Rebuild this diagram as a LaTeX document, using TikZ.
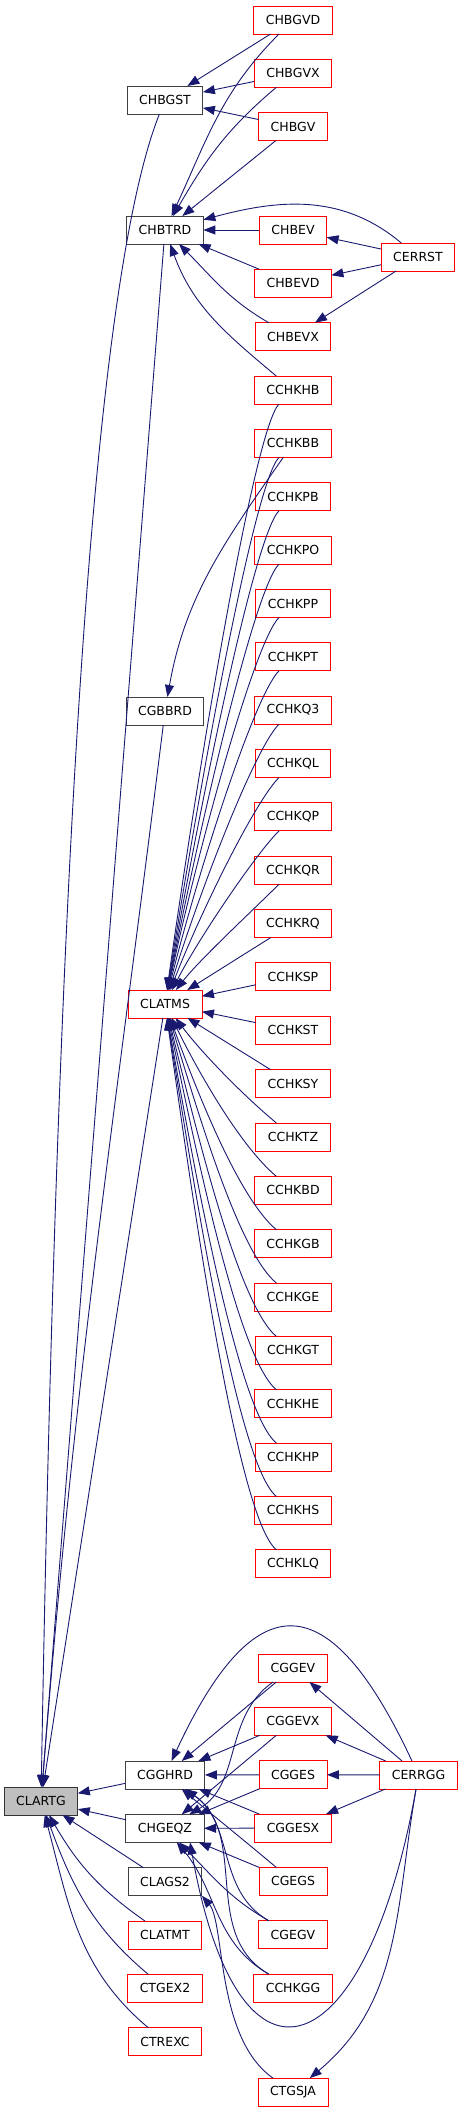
\documentclass[tikz,border=0pt]{standalone}
\usepackage{fontspec}
\newfontfamily\doxfont{DejaVu Sans}
\usetikzlibrary{arrows.meta, positioning}
\definecolor{edgeblue}{HTML}{191970}
\tikzset{
    fnbox/.style = {rectangle, minimum height=28pt, inner xsep=12pt, inner ysep=0pt, outer sep=0pt, line width=0.9pt, fill=white, font=\doxfont\fontsize{12.5}{15}\selectfont},
    redbox/.style = {fnbox, draw=red},
    blkbox/.style = {fnbox, draw=black!75},
    mainbox/.style = {fnbox, draw=black!80, fill=gray!50},
    call/.style = {draw=edgeblue, line width=0.9pt, -{Triangle[length=12pt,width=9pt]}}
}

\begin{document}
\begin{tikzpicture}[x=1pt, y=1pt, node distance=25.35pt]
\useasboundingbox (0,0) rectangle (461,-2112);

% upper group
\node[redbox] (chbgvd) at (293,-20) {CHBGVD};
\node[redbox, below=of chbgvd] (chbgvx) {CHBGVX};
\node[redbox, below=of chbgvx] (chbgv) {CHBGV};
\node[blkbox] (chbgst) at (165,-100) {CHBGST};
\node[blkbox] (chbtrd) at (165,-230) {CHBTRD};
\node[redbox] (chbev) at (chbtrd -| chbgvd) {CHBEV};
\node[redbox, below=of chbev] (chbevd) {CHBEVD};
\node[redbox, below=of chbevd] (chbevx) {CHBEVX};
\node[redbox, below=of chbevx] (cchkhb) {CCHKHB};
\node[redbox] (cerrst) at (418,-257) {CERRST};
\node[redbox, below=of cchkhb] (cchkbb) {CCHKBB};
\node[redbox, below=of cchkbb] (cchkpb) {CCHKPB};
\node[redbox, below=of cchkpb] (cchkpo) {CCHKPO};
\node[redbox, below=of cchkpo] (cchkpp) {CCHKPP};
\node[redbox, below=of cchkpp] (cchkpt) {CCHKPT};
\node[redbox, below=of cchkpt] (cchkq3) {CCHKQ3};
\node[redbox, below=of cchkq3] (cchkql) {CCHKQL};
\node[redbox, below=of cchkql] (cchkqp) {CCHKQP};
\node[redbox, below=of cchkqp] (cchkqr) {CCHKQR};
\node[redbox, below=of cchkqr] (cchkrq) {CCHKRQ};
\node[redbox, below=of cchkrq] (cchksp) {CCHKSP};
\node[redbox, below=of cchksp] (cchkst) {CCHKST};
\node[redbox, below=of cchkst] (cchksy) {CCHKSY};
\node[redbox, below=of cchksy] (cchktz) {CCHKTZ};
\node[redbox, below=of cchktz] (cchkbd) {CCHKBD};
\node[redbox, below=of cchkbd] (cchkgb) {CCHKGB};
\node[redbox, below=of cchkgb] (cchkge) {CCHKGE};
\node[redbox, below=of cchkge] (cchkgt) {CCHKGT};
\node[redbox, below=of cchkgt] (cchkhe) {CCHKHE};
\node[redbox, below=of cchkhe] (cchkhp) {CCHKHP};
\node[redbox, below=of cchkhp] (cchkhs) {CCHKHS};
\node[redbox, below=of cchkhs] (cchklq) {CCHKLQ};
\node[blkbox] (cgbbrd) at (165,-711) {CGBBRD};
\node[redbox] (clatms) at (165,-1004) {CLATMS};

% lower group
\node[mainbox] (clartg) at (41,-1801) {CLARTG};
\node[blkbox] (cgghrd) at (165,-1775) {CGGHRD};
\node[blkbox, below=of cgghrd] (chgeqz) {CHGEQZ};
\node[blkbox, below=of chgeqz] (clags2) {CLAGS2};
\node[redbox, below=of clags2] (clatmt) {CLATMT};
\node[redbox, below=of clatmt] (ctgex2) {CTGEX2};
\node[redbox, below=of ctgex2] (ctrexc) {CTREXC};
\node[redbox] (cggev) at (293,-1668) {CGGEV};
\node[redbox, below=of cggev] (cggevx) {CGGEVX};
\node[redbox, below=of cggevx] (cgges) {CGGES};
\node[redbox, below=of cgges] (cggesx) {CGGESX};
\node[redbox, below=of cggesx] (cgegs) {CGEGS};
\node[redbox, below=of cgegs] (cgegv) {CGEGV};
\node[redbox, below=of cgegv] (cchkgg) {CCHKGG};
\node[redbox, below=76pt of cchkgg] (ctgsja) {CTGSJA};
\node[redbox] (cerrgg) at (418.5,-1775) {CERRGG};

% calls into CHBGST and CHBTRD
\draw[call] (chbgvd) -- (chbgst);
\draw[call] (chbgvx) -- (chbgst);
\draw[call] (chbgv) -- (chbgst);
\draw[call] (chbgvd) to[out=-135,in=65] (chbtrd);
\draw[call] (chbgvx) to[out=-140,in=60] (chbtrd);
\draw[call] (chbgv) -- (chbtrd);
\draw[call] (cerrst) to[out=140,in=15] (chbtrd);
\draw[call] (chbev) -- (chbtrd);
\draw[call] (chbevd) -- (chbtrd);
\draw[call] (chbevx) to[out=150,in=-45] (chbtrd);
\draw[call] (cchkhb) to[out=140,in=-70] (chbtrd);
\draw[call] (cerrst) -- (chbev);
\draw[call] (cerrst) -- (chbevd);
\draw[call] (cerrst) -- (chbevx);

% long lines down to CLARTG
\draw[call] (chbgst) .. controls (104,-253) and (60,-703) .. (clartg);
\draw[call] (chbtrd) -- (clartg);
\draw[call] (cgbbrd) .. controls (112,-1139) and (75,-1371) .. (clartg);
\draw[call] (clatms) -- (clartg);
\draw[call] (cchkbb) .. controls (224.5,-541.6) and (185,-597) .. (cgbbrd);

% testers calling CLATMS
\draw[call] (cchkhb) .. controls +(225:55) and +(82:235) .. (clatms);
\draw[call] (cchkbb) .. controls +(225:55) and +(81:215) .. (clatms);
\draw[call] (cchkpb) .. controls +(225:55) and +(80:195) .. (clatms);
\draw[call] (cchkpo) .. controls +(225:55) and +(79:175) .. (clatms);
\draw[call] (cchkpp) .. controls +(225:55) and +(78:153) .. (clatms);
\draw[call] (cchkpt) .. controls +(225:55) and +(76:133) .. (clatms);
\draw[call] (cchkq3) .. controls +(225:55) and +(73:112) .. (clatms);
\draw[call] (cchkql) .. controls +(225:55) and +(69:92) .. (clatms);
\draw[call] (cchkqp) .. controls +(225:55) and +(63:69) .. (clatms);
\draw[call] (cchkqr) .. controls +(225:55) and +(52:57) .. (clatms);
\draw[call] (cchkrq) -- (clatms);
\draw[call] (cchksp) -- (clatms);
\draw[call] (cchkst) -- (clatms);
\draw[call] (cchksy) -- (clatms);
\draw[call] (cchktz) .. controls +(140:72) and +(-53:57) .. (clatms);
\draw[call] (cchkbd) .. controls +(140:72) and +(-64:66) .. (clatms);
\draw[call] (cchkgb) .. controls +(140:72) and +(-70:87) .. (clatms);
\draw[call] (cchkge) .. controls +(140:72) and +(-73:108) .. (clatms);
\draw[call] (cchkgt) .. controls +(140:72) and +(-76:129) .. (clatms);
\draw[call] (cchkhe) .. controls +(140:72) and +(-78:150) .. (clatms);
\draw[call] (cchkhp) .. controls +(140:72) and +(-80:170) .. (clatms);
\draw[call] (cchkhs) .. controls +(140:72) and +(-81:191) .. (clatms);
\draw[call] (cchklq) .. controls +(140:72) and +(-82:211) .. (clatms);

% lower group into CLARTG
\draw[call] (cgghrd) -- (clartg);
\draw[call] (chgeqz) -- (clartg);
\draw[call] (clags2) -- (clartg);
\draw[call] (clatmt) to[out=145,in=-60] (clartg);
\draw[call] (ctgex2) to[out=140,in=-70] (clartg);
\draw[call] (ctrexc) to[out=140,in=-75] (clartg);

% drivers into CGGHRD and CHGEQZ
\draw[call] (cggev) -- (cgghrd);
\draw[call] (cggev) to[out=-145,in=30] (chgeqz);
\draw[call] (cggevx) -- (cgghrd);
\draw[call] (cggevx) -- (chgeqz);
\draw[call] (cgges) -- (cgghrd);
\draw[call] (cgges) -- (chgeqz);
\draw[call] (cggesx) -- (cgghrd);
\draw[call] (cggesx) -- (chgeqz);
\draw[call] (cgegs) to[out=140,in=-40] (cgghrd);
\draw[call] (cgegs) -- (chgeqz);
\draw[call] (cgegv) to[out=150,in=-35] (cgghrd);
\draw[call] (cgegv) to[out=150,in=-45] (chgeqz);
\draw[call] (cchkgg) to[out=150,in=-35] (cgghrd);
\draw[call] (cchkgg) to[out=150,in=-50] (chgeqz);
\draw[call] (ctgsja) to[out=145,in=-50,out distance=70pt,in distance=36pt] (clags2.south east);

% CERRGG
\draw[call] (cerrgg) -- (cggev);
\draw[call] (cerrgg) -- (cggevx);
\draw[call] (cerrgg) -- (cgges);
\draw[call] (cerrgg) -- (cggesx);
\draw[call] (cerrgg) to[out=115,in=65,looseness=2.1] (cgghrd);
\draw[call] (cerrgg) to[out=-100,in=-80,looseness=3.1] ([xshift=-14pt]chgeqz.south east);
\draw[call] (cerrgg) .. controls (395.5,-1907) and (402,-2001) .. (ctgsja);
\end{tikzpicture}
\end{document}
